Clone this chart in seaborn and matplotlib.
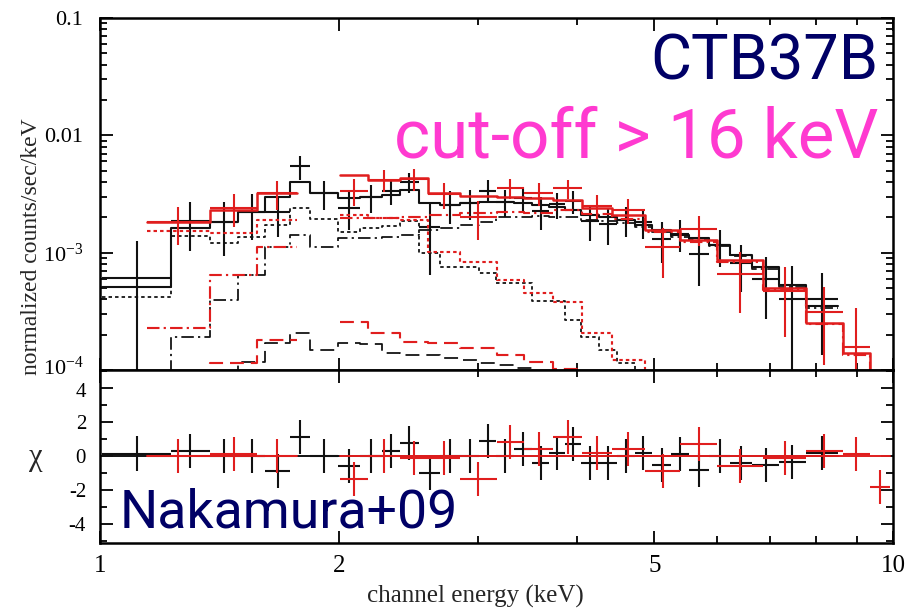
import numpy as np
import matplotlib
matplotlib.use("Agg")
import matplotlib.pyplot as plt
import matplotlib.transforms as mtransforms
import seaborn as sns
from matplotlib.ticker import FixedLocator, FixedFormatter, NullFormatter, LogLocator

# ---------------- spectra: XIS black (FI) ----------------
blk_edges = [1.006, 1.229, 1.376, 1.493, 1.615, 1.736, 1.840, 1.996, 2.128, 2.268,
             2.389, 2.525, 2.685, 2.844, 3.006, 3.158, 3.327, 3.506, 3.684, 3.858,
             4.043, 4.259, 4.487, 4.727, 4.967, 5.250, 5.533, 5.862, 6.231, 6.643,
             7.181, 7.767, 8.523]
blk_data = [6.08e-4, 1.87e-3, 1.82e-3, 2.22e-3, 2.22e-3, 5.43e-3, 3.22e-3, 2.41e-3,
            2.98e-3, 3.34e-3, 4.02e-3, 1.65e-3, 2.55e-3, 2.65e-3, 3.38e-3, 2.70e-3,
            2.93e-3, 2.27e-3, 2.58e-3, 2.73e-3, 1.85e-3, 1.77e-3, 1.90e-3, 1.82e-3,
            1.31e-3, 1.455e-3, 0.97e-3, 1.16e-3, 8.14e-4, 5.94e-4, 4.00e-4, 4.05e-4]
blk_err = [6.6e-4, 8.4e-4, 8.8e-4, 9.5e-4, 8.5e-4, 1.3e-3, 9.0e-4, 8.5e-4,
           8.0e-4, 8.0e-4, 8.0e-4, 1.0e-3, 8.0e-4, 7.5e-4, 7.5e-4, 7.0e-4,
           7.0e-4, 7.0e-4, 6.5e-4, 6.0e-4, 6.0e-4, 6.0e-4, 5.5e-4, 5.0e-4,
           5.0e-4, 4.5e-4, 4.5e-4, 4.0e-4, 3.5e-4, 3.2e-4, 3.7e-4, 2.7e-4]
blk_model = [5.09e-4, 1.62e-3, 1.82e-3, 2.22e-3, 2.98e-3, 4.00e-3, 3.22e-3, 2.92e-3,
             2.98e-3, 3.10e-3, 3.42e-3, 2.65e-3, 2.55e-3, 2.65e-3, 2.70e-3, 2.70e-3,
             2.65e-3, 2.55e-3, 2.45e-3, 2.31e-3, 2.09e-3, 2.01e-3, 1.90e-3, 1.72e-3,
             1.56e-3, 1.41e-3, 1.33e-3, 1.16e-3, 9.54e-4, 7.54e-4, 5.30e-4, 3.51e-4]
blk_soft = [4.19e-4, 1.38e-3, 1.20e-3, 1.36e-3, 1.72e-3, 2.40e-3, 1.93e-3, 1.50e-3,
            1.62e-3, 1.69e-3, 1.86e-3, 9.9e-4, 7.5e-4, 7.5e-4, 6.7e-4, 5.5e-4,
            5.5e-4, 3.9e-4, 3.9e-4, 2.66e-4, 1.91e-4, 1.48e-4, 1.15e-4, 7e-5,
            4e-5, 2e-5, 1e-5, 6e-6, 3e-6, 2e-6, 1e-6, 5e-7]
blk_hard = [6e-5, 1.91e-4, 3.94e-4, 6.44e-4, 1.12e-3, 1.41e-3, 1.12e-3, 1.33e-3,
            1.33e-3, 1.36e-3, 1.41e-3, 1.56e-3, 1.62e-3, 1.72e-3, 1.82e-3, 2.00e-3,
            2.00e-3, 2.05e-3, 2.00e-3, 2.00e-3, 1.90e-3, 1.86e-3, 1.78e-3, 1.66e-3,
            1.51e-3, 1.37e-3, 1.29e-3, 1.13e-3, 9.3e-4, 7.3e-4, 5.1e-4, 3.4e-4]
blk_line = [3e-5, 5e-5, 7e-5, 1.17e-4, 1.70e-4, 2.06e-4, 1.48e-4, 1.70e-4,
            1.65e-4, 1.39e-4, 1.34e-4, 1.34e-4, 1.26e-4, 1.21e-4, 1.15e-4, 1.10e-4,
            1.04e-4, 9.8e-5, 9e-5, 8e-5, 7e-5, 6e-5, 5e-5, 4e-5,
            3e-5, 2.5e-5, 2e-5, 1.5e-5, 1e-5, 8e-6, 5e-6, 3e-6]

# ---------------- spectra: XIS red (BI) ----------------
red_lo = [1.146, 1.376, 1.578, 2.007, 2.177, 2.389, 2.592, 2.844, 3.167, 3.425,
          3.727, 4.055, 4.422, 4.867, 5.388, 5.999, 6.858, 7.767, 8.648, 9.354]
red_hi = [1.376, 1.578, 1.772, 2.177, 2.389, 2.592, 2.844, 3.167, 3.425, 3.727,
          4.055, 4.422, 4.867, 5.388, 5.999, 6.858, 7.767, 8.648, 9.354, 9.913]
red_data = [1.82e-3, 2.39e-3, 3.22e-3, 3.38e-3, 4.16e-3, 4.27e-3, 3.14e-3, 2.03e-3,
            3.54e-3, 3.20e-3, 3.53e-3, 2.52e-3, 2.31e-3, 1.11e-3, 1.60e-3, 6.55e-4,
            4.70e-4, 3.10e-4, 1.57e-4, -1.9e-4]
red_err = [6.5e-4, 7.5e-4, 9.0e-4, 9.0e-4, 9.0e-4, 9.0e-4, 8.0e-4, 7.5e-4,
           7.0e-4, 7.0e-4, 6.5e-4, 6.0e-4, 5.5e-4, 5.0e-4, 4.5e-4, 3.5e-4,
           2.8e-4, 2.0e-4, 1.8e-4, 1.5e-4]
red_model = [1.82e-3, 2.31e-3, 3.22e-3, 4.59e-3, 4.16e-3, 4.36e-3, 3.22e-3, 3.04e-3,
             2.98e-3, 2.92e-3, 2.81e-3, 2.40e-3, 2.09e-3, 1.56e-3, 1.28e-3, 8.65e-4,
             4.99e-4, 2.51e-4, 1.39e-4, 8.0e-5]
red_soft = [1.53e-3, 1.47e-3, 1.90e-3, 2.09e-3, 1.97e-3, 1.90e-3, 1.01e-3, 8.3e-4,
            5.8e-4, 4.5e-4, 3.8e-4, 2.06e-4, 1.21e-4, 7e-5, 4e-5, 2e-5,
            1e-5, 5e-6, 3e-6, 2e-6]
red_hard = [2.28e-4, 6.4e-4, 1.12e-3, 1.97e-3, 1.97e-3, 2.01e-3, 2.09e-3, 2.18e-3,
            2.22e-3, 2.18e-3, 2.30e-3, 2.15e-3, 1.95e-3, 1.49e-3, 1.24e-3, 8.4e-4,
            4.85e-4, 2.45e-4, 1.35e-4, 7.8e-5]
red_line = [5e-5, 1.15e-4, 1.80e-4, 2.56e-4, 2.06e-4, 1.73e-4, 1.70e-4, 1.54e-4,
            1.34e-4, 1.17e-4, 1.02e-4, 8e-5, 6e-5, 4e-5, 3e-5, 2e-5,
            1.5e-5, 1e-5, 6e-6, 4e-6]

x_ticks = [1, 2, 5, 10]
x_ticklabels = ["1", "2", "5", "10"]
y_ticks = [1e-4, 1e-3, 1e-2, 1e-1]
y_ticklabels = [r"$\mathregular{10^{-4}}$", r"$\mathregular{10^{-3}}$", "0.01", "0.1"]
chi_ticks = [-4, -2, 0, 2, 4]

BLACK = "#111111"
RED = "#e01e1e"
NAVY = "#000066"
MAGENTA = "#ff3ad0"

sns.set_theme(style="ticks")
plt.rcParams.update({
    "font.family": ["Liberation Serif", "DejaVu Serif"],
    "mathtext.fontset": "custom",
    "mathtext.rm": "Liberation Serif",
    "mathtext.it": "Liberation Serif:italic",
    "lines.scale_dashes": False,
    "axes.edgecolor": "black",
    "xtick.color": "black",
    "ytick.color": "black",
})

W, H = 907, 609
fig = plt.figure(figsize=(W / 100, H / 100), dpi=100)
ax = fig.add_axes([100 / W, 1 - 370 / H, 793 / W, 352 / H])
axr = fig.add_axes([100 / W, 1 - 543 / H, 793 / W, 173 / H], sharex=ax)


def steps(lo, hi, val):
    """Histogram-style path across bins, broken where bins are not adjacent."""
    xs, ys = [], []
    for i in range(len(lo)):
        if i > 0 and not np.isclose(lo[i], hi[i - 1]):
            xs.append(np.nan)
            ys.append(np.nan)
        xs += [lo[i], hi[i]]
        ys += [val[i], val[i]]
    return np.array(xs), np.array(ys)


datasets = [
    (blk_edges[:-1], blk_edges[1:], blk_data, blk_err, blk_model,
     blk_soft, blk_hard, blk_line, BLACK, 1.5),
    (red_lo, red_hi, red_data, red_err, red_model,
     red_soft, red_hard, red_line, RED, 1.8),
]

styles = {
    "soft": (0, (2.5, 2.2)),
    "hard": (0, (9, 3, 1.6, 3)),
    "line": (0, (10, 5)),
}

for lo, hi, data, err, model, soft, hard, line, col, lw in datasets:
    lo = np.asarray(lo); hi = np.asarray(hi)
    data = np.asarray(data); err = np.asarray(err); model = np.asarray(model)
    ctr = np.sqrt(lo * hi)
    xerr = np.vstack([ctr - lo, hi - ctr])

    # model components and total
    for comp, key in ((soft, "soft"), (hard, "hard"), (line, "line")):
        xs, ys = steps(lo, hi, comp)
        ax.plot(xs, ys, color=col, lw=lw * 0.85, ls=styles[key])
    xs, ys = steps(lo, hi, model)
    ax.plot(xs, ys, color=col, lw=lw)

    # data points with 1-sigma errors
    ok = data > 0
    ax.errorbar(ctr[ok], data[ok], yerr=err[ok], xerr=xerr[:, ok], fmt="none",
                ecolor=col, elinewidth=1.5, capsize=0)

    # residuals in units of sigma
    chi = (data - model) / err
    axr.errorbar(ctr, chi, yerr=np.ones_like(chi), xerr=xerr, fmt="none",
                 ecolor=col, elinewidth=1.5, capsize=0)
    xs, ys = steps(lo, hi, np.zeros_like(model))
    axr.plot(xs, ys, color=col, lw=1.4)

for a in (ax, axr):
    a.set_xscale("log")
    a.set_xlim(1, 10)
    a.tick_params(which="both", direction="in", top=True, right=True,
                  width=1.3, labelsize=16)
    a.tick_params(which="major", length=9)
    a.tick_params(which="minor", length=5)
    for s in a.spines.values():
        s.set_linewidth(1.8)
        s.set_color("black")
    a.xaxis.set_major_locator(FixedLocator(x_ticks))
    a.xaxis.set_minor_locator(FixedLocator([3, 4, 6, 7, 8, 9]))
    a.xaxis.set_minor_formatter(NullFormatter())

ax.set_yscale("log")
ax.set_ylim(1e-4, 0.1)
ax.yaxis.set_major_locator(FixedLocator(y_ticks))
ax.yaxis.set_major_formatter(FixedFormatter(y_ticklabels))
ax.yaxis.set_minor_locator(LogLocator(base=10, subs=np.arange(2, 10), numticks=20))
ax.yaxis.set_minor_formatter(NullFormatter())
ax.tick_params(axis="x", labelbottom=False)
ax.tick_params(axis="y", pad=12, labelsize=16)

axr.set_ylim(-5.1, 5.05)
axr.yaxis.set_major_locator(FixedLocator(chi_ticks))
axr.yaxis.set_minor_locator(FixedLocator([-5, -3, -1, 1, 3, 5]))
axr.yaxis.set_major_formatter(FixedFormatter([str(t) for t in chi_ticks]))
axr.xaxis.set_major_formatter(FixedFormatter(x_ticklabels))
axr.tick_params(axis="x", pad=9, labelsize=18)
axr.tick_params(axis="y", pad=10, labelsize=15)

# keep the shared-corner labels (10^-4 above, 4 below) apart
lift = mtransforms.ScaledTranslation(0, 4 / 100, fig.dpi_scale_trans)
drop = mtransforms.ScaledTranslation(0, -2 / 100, fig.dpi_scale_trans)
t_low = ax.yaxis.get_major_ticks()[0].label1
t_low.set_transform(t_low.get_transform() + lift)
t_top = axr.yaxis.get_major_ticks()[-1].label1
t_top.set_transform(t_top.get_transform() + drop)

ax.set_ylabel("normalized counts/sec/keV", fontsize=17)
ax.yaxis.set_label_coords(-0.073, 0.35)
axr.set_xlabel("channel energy (keV)", fontsize=18)
axr.xaxis.set_label_coords(0.473, -0.245)
fig.text(36 / W, 1 - 458 / H, "χ", ha="center", va="center", fontsize=22)


def fitted_text(x_px, y_px, s, width_px, **kw):
    t = fig.text(x_px / W, 1 - y_px / H, s, fontsize=40, **kw)
    r = fig.canvas.get_renderer()
    w = t.get_window_extent(r).width
    t.set_fontsize(40 * width_px / w)
    return t


sans = ["Roboto", "DejaVu Sans"]
fitted_text(878, 80, "CTB37B", 228, ha="right", va="baseline",
            color=NAVY, family=sans)
fitted_text(878, 157, "cut-off > 16 keV", 484, ha="right", va="baseline",
            color=MAGENTA, family=sans)
fitted_text(120, 527, "Nakamura+09", 338, ha="left", va="baseline",
            color=NAVY, family=sans)

fig.savefig("out.png", dpi=100, facecolor="white")
